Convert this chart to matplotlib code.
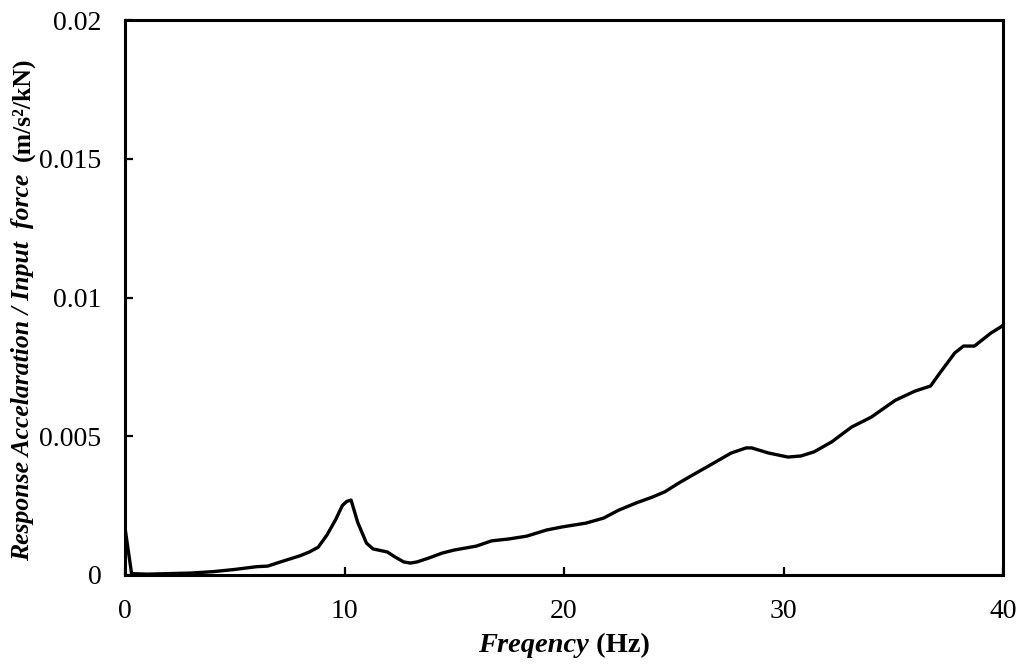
import matplotlib
matplotlib.use("Agg")
import matplotlib.pyplot as plt
from matplotlib.ticker import FixedLocator, FixedFormatter

freq = [0, 0.3, 1.0, 2.0, 3.0, 4.0, 5.0, 5.5, 6.0, 6.5, 7.0, 7.6, 8.0, 8.4, 8.8,
        9.2, 9.6, 9.9, 10.1, 10.3, 10.6, 11.0, 11.3, 11.95, 12.3, 12.7, 13.0, 13.3,
        13.8, 14.45, 15.0, 16.0, 16.7, 17.5, 18.3, 19.2, 19.9, 21.0, 21.8, 22.5,
        23.3, 24.0, 24.6, 25.2, 25.7, 26.1, 26.9, 27.6, 28.3, 28.55, 29.3, 30.2,
        30.8, 31.4, 32.2, 33.1, 34.0, 35.1, 36.0, 36.7, 37.05, 37.8, 38.2, 38.7,
        39.45, 39.9, 40.0]
response = [0.0017, 0.00005, 0.00003, 0.00005, 0.00007, 0.00012, 0.0002, 0.00025,
            0.0003, 0.00032, 0.00045, 0.0006, 0.0007, 0.00083, 0.001, 0.00144, 0.002,
            0.0025, 0.00265, 0.0027, 0.0019, 0.00115, 0.00094, 0.00083, 0.00065,
            0.00047, 0.00043, 0.00047, 0.0006, 0.00079, 0.0009, 0.00104, 0.00123,
            0.0013, 0.0014, 0.00162, 0.00173, 0.00187, 0.00205, 0.00234, 0.0026,
            0.0028, 0.003, 0.0033, 0.00353, 0.00371, 0.00407, 0.00439, 0.00458,
            0.00458, 0.0044, 0.00425, 0.00429, 0.00444, 0.0048, 0.00533, 0.00569,
            0.0063, 0.00663, 0.00681, 0.0072, 0.008, 0.00825, 0.00825, 0.00872,
            0.00894, 0.009]

xticks = [0, 10, 20, 30, 40]
xtick_labels = ["0", "10", "20", "30", "40"]
yticks = [0, 0.005, 0.01, 0.015, 0.02]
ytick_labels = ["0", "0.005", "0.01", "0.015", "0.02"]

plt.rcParams['font.family'] = ['Liberation Serif', 'DejaVu Serif']

W, H = 1022, 664
fig = plt.figure(figsize=(W / 100, H / 100), dpi=100)
ax = fig.add_axes([125 / W, 1 - 575 / H, (1003 - 125) / W, (575 - 20) / H])

ax.plot(freq, response, color='black', lw=2.4, solid_joinstyle='round')
ax.set_xlim(0, 40)
ax.set_ylim(0, 0.02)

ax.xaxis.set_major_locator(FixedLocator(xticks))
ax.xaxis.set_major_formatter(FixedFormatter(xtick_labels))
ax.yaxis.set_major_locator(FixedLocator(yticks))
ax.yaxis.set_major_formatter(FixedFormatter(ytick_labels))
ax.tick_params(axis='x', direction='in', length=6, width=1.6, labelsize=20, pad=17,
               top=False)
ax.tick_params(axis='y', direction='in', length=6, width=1.6, labelsize=20, pad=17,
               right=False)
for s in ax.spines.values():
    s.set_linewidth(2.2)

# x label: italic bold + bold
fig.canvas.draw()
r = fig.canvas.get_renderer()
xl_y = 1 - 646 / H
t1 = fig.text(0, xl_y, "Freqency", fontsize=20.5, fontweight='bold', fontstyle='italic',
              va='center', ha='left')
t2 = fig.text(0, xl_y, " (Hz)", fontsize=20.5, fontweight='bold', va='center', ha='left')
w1 = t1.get_window_extent(r).width
w2 = t2.get_window_extent(r).width
cx = 564
t1.set_x((cx - (w1 + w2) / 2) / W)
t2.set_x((cx - (w1 + w2) / 2 + w1) / W)

# y label: bold italic + bold, rotated
ylx = 23 / W
y1 = fig.text(ylx, 0, "Response Accelaration / Input  force  ", fontsize=18.5,
              fontweight='bold', fontstyle='italic', rotation=90,
              rotation_mode='anchor', ha='left', va='center')
y2 = fig.text(ylx, 0, "(m/s²/kN)", fontsize=18.5, fontweight='bold', rotation=90,
              rotation_mode='anchor', ha='left', va='center')
h1 = y1.get_window_extent(r).height
h2 = y2.get_window_extent(r).height
cy = H - 309
start = cy - (h1 + h2) / 2
y1.set_y(start / H)
y2.set_y((start + h1) / H)

fig.savefig("out.png", dpi=100)
